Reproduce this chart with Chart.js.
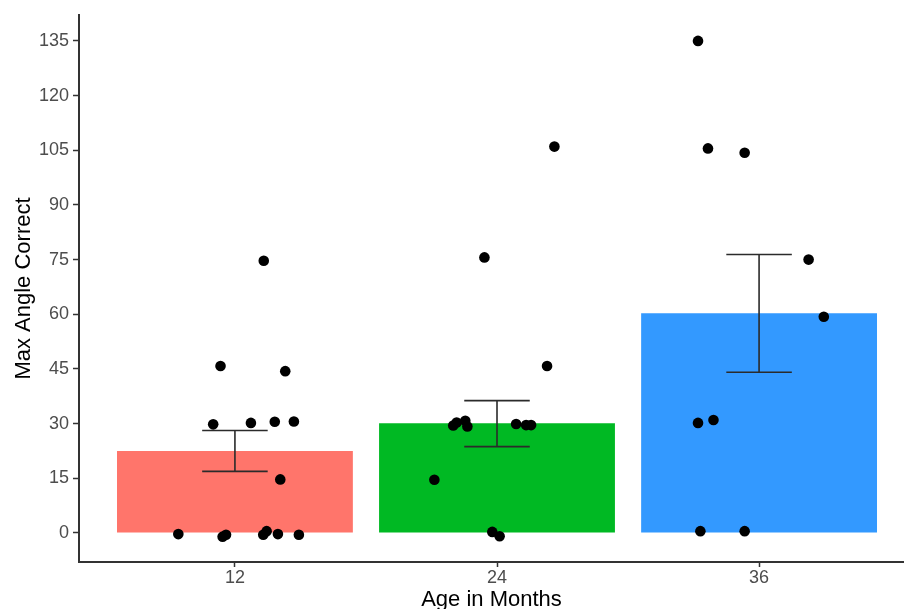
<!DOCTYPE html>
<html>
<head>
  <meta charset="UTF-8">
  <title>Max Angle Correct by Age</title>
  <script src="https://cdn.jsdelivr.net/npm/chart.js"></script>
  <style>
    html, body { margin: 0; padding: 0; background: #fff; overflow: hidden; }
    #wrap { width: 904px; height: 625px; }
  </style>
</head>
<body>
  <div id="wrap"><canvas id="barChart" width="904" height="625"></canvas></div>

  <script>
    // age groups (x categories)
    const categories = ['12', '24', '36'];
    const barColors = ['#FF756B', '#00B923', '#3399FF'];

    // group means and error bar limits
    const means = [22.5, 30.1, 60.3];
    const errLow = [16.9, 23.7, 44.1];
    const errHigh = [28.1, 36.3, 76.4];

    // individual points: horizontal jitter (in category units) and value
    const jitter12 = [0.110, -0.055, 0.192, -0.083, 0.061, 0.152, 0.225, 0.173, -0.216, -0.047, -0.034, 0.108, 0.121, 0.164, 0.244];
    const values12 = [74.7, 45.8, 44.4, 29.8, 30.2, 30.5, 30.6, 14.7, -0.3, -1.0, -0.5, -0.5, 0.5, -0.3, -0.5];
    const jitter24 = [0.219, -0.048, 0.191, -0.167, -0.154, -0.121, -0.113, 0.073, 0.111, 0.130, -0.239, -0.018, 0.010];
    const values24 = [106.0, 75.6, 45.8, 29.5, 30.3, 30.8, 29.2, 29.9, 29.6, 29.6, 14.6, 0.3, -0.9];
    const jitter36 = [-0.233, -0.195, -0.055, 0.189, 0.247, -0.233, -0.174, -0.224, -0.055];
    const values36 = [135.0, 105.5, 104.3, 75.0, 59.3, 30.2, 31.0, 0.5, 0.5];

    const yTicks = [0, 15, 30, 45, 60, 75, 90, 105, 120, 135];

    const groupJitter = [jitter12, jitter24, jitter36];
    const groupValues = [values12, values24, values36];
    const points = [];
    groupValues.forEach((vals, g) => {
      vals.forEach((v, i) => points.push({ x: g + groupJitter[g][i], y: v }));
    });

    const tickColor = '#4D4D4D';
    const axisColor = '#333333';
    const fontFamily = "'Liberation Sans', Arial, sans-serif";

    // draws error bars right after the bars, so the points sit on top
    const errorBars = {
      id: 'errorBars',
      afterDatasetDraw(chart, args) {
        if (args.index !== 0) return;
        const ctx = chart.ctx;
        const xs = chart.scales.x, ys = chart.scales.y;
        ctx.save();
        ctx.strokeStyle = '#2b2b2b';
        ctx.lineWidth = 1.6;
        for (let i = 0; i < categories.length; i++) {
          const cx = xs.getPixelForValue(i);
          const x0 = xs.getPixelForValue(i - 0.125);
          const x1 = xs.getPixelForValue(i + 0.125);
          const yLo = ys.getPixelForValue(errLow[i]);
          const yHi = ys.getPixelForValue(errHigh[i]);
          ctx.beginPath();
          ctx.moveTo(cx, yLo); ctx.lineTo(cx, yHi);
          ctx.moveTo(x0, yLo); ctx.lineTo(x1, yLo);
          ctx.moveTo(x0, yHi); ctx.lineTo(x1, yHi);
          ctx.stroke();
        }
        ctx.restore();
      }
    };

    new Chart(document.getElementById('barChart'), {
      type: 'bar',
      data: {
        datasets: [
          {
            type: 'bar',
            order: 2,
            data: means.map((m, i) => ({ x: i, y: m })),
            backgroundColor: barColors,
            borderWidth: 0,
            barPercentage: 0.9,
            categoryPercentage: 1.0
          },
          {
            type: 'scatter',
            order: 1,
            data: points,
            backgroundColor: '#000',
            borderWidth: 0,
            pointRadius: 5.3
          }
        ]
      },
      options: {
        responsive: false,
        animation: false,
        layout: { autoPadding: false, padding: { top: 15, left: 0, right: 0, bottom: 0 } },
        plugins: { legend: { display: false }, tooltip: { enabled: false } },
        scales: {
          x: {
            type: 'linear',
            offset: false,
            min: -0.595,
            max: 2.553,
            afterBuildTicks: (s) => { s.ticks = categories.map((c, i) => ({ value: i })); },
            afterFit: (s) => { s.height = 63; },
            grid: { drawOnChartArea: false, drawTicks: true, tickLength: 5, tickColor: axisColor, tickWidth: 1.5, offset: false },
            border: { display: true, color: axisColor, width: 2 },
            ticks: {
              padding: 0,
              color: tickColor,
              font: { family: fontFamily, size: 18 },
              callback: (v) => categories[v]
            },
            title: {
              display: true,
              text: 'Age in Months',
              color: '#000',
              font: { family: fontFamily, size: 22 },
              padding: { top: 0, bottom: 11.8 }
            }
          },
          y: {
            min: -7.96,
            max: 142.1,
            afterBuildTicks: (s) => { s.ticks = yTicks.map(v => ({ value: v })); },
            afterFit: (s) => { s.width = 79; },
            grid: { drawOnChartArea: false, drawTicks: true, tickLength: 6, tickColor: axisColor, tickWidth: 1.5 },
            border: { display: true, color: axisColor, width: 2 },
            ticks: {
              padding: 4,
              color: tickColor,
              font: { family: fontFamily, size: 18 }
            },
            title: {
              display: true,
              text: 'Max Angle Correct',
              color: '#000',
              font: { family: fontFamily, size: 22 },
              padding: { top: 10.8, bottom: 0 }
            }
          }
        }
      },
      plugins: [errorBars]
    });
  </script>
</body>
</html>
